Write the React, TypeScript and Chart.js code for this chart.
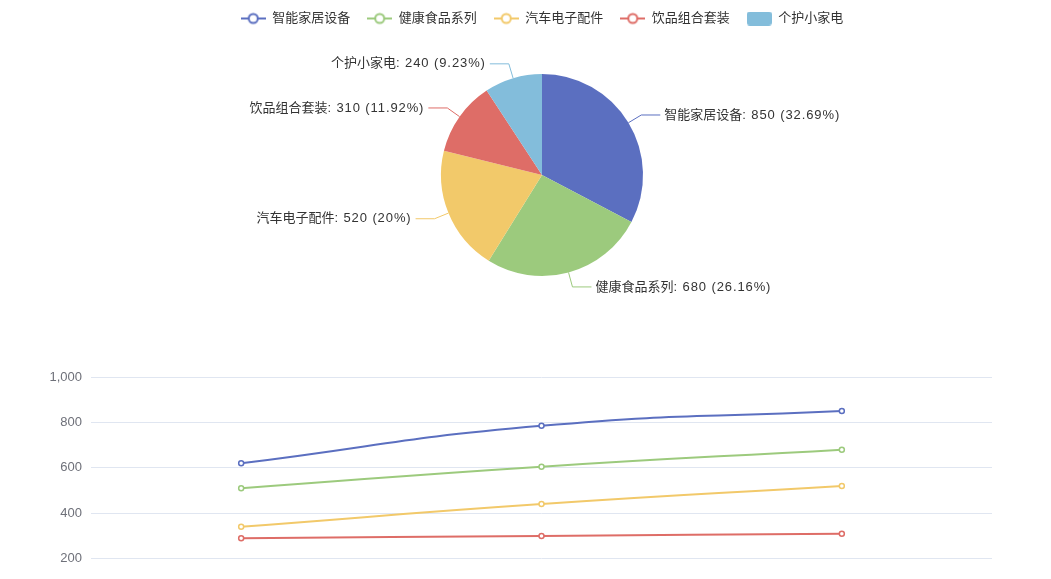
import React, { useEffect, useRef } from "react";
import { Chart, registerables } from "chart.js";

Chart.register(...registerables);

// ---- data ----
const categories = ["1月", "2月", "3月"];
const seriesNames = ["智能家居设备", "健康食品系列", "汽车电子配件", "饮品组合套装"];
const smartHome = [620, 785, 850];
const healthFood = [510, 605, 680];
const autoParts = [340, 440, 520];
const drinks = [290, 300, 310];
const pieNames = ["智能家居设备", "健康食品系列", "汽车电子配件", "饮品组合套装", "个护小家电"];
const pieValues = [850, 680, 520, 310, 240];
const palette = ["#5b6fc0", "#9cca7d", "#f2c96a", "#de6d67", "#83bddb"];

const FONT = "'Liberation Sans', 'Noto Sans CJK SC', sans-serif";

function percents(values: number[], digits: number): number[] {
  const sum = values.reduce((a, b) => a + b, 0);
  const digitsPow = Math.pow(10, digits);
  const votes = values.map((v) => (v / sum) * 100 * digitsPow);
  const target = 100 * digitsPow;
  const seats = votes.map((v) => Math.floor(v));
  const rem = votes.map((v, i) => v - seats[i]);
  let cur = seats.reduce((a, b) => a + b, 0);
  while (cur < target) {
    let max = -1;
    let idx = -1;
    rem.forEach((r, i) => {
      if (r > max) {
        max = r;
        idx = i;
      }
    });
    seats[idx]++;
    rem[idx] = 0;
    cur++;
  }
  return seats.map((s) => s / digitsPow);
}

function makeLineIcon(color: string): HTMLCanvasElement {
  const c = document.createElement("canvas");
  c.width = 25;
  c.height = 14;
  const ctx = c.getContext("2d")!;
  ctx.strokeStyle = color;
  ctx.lineWidth = 2;
  ctx.beginPath();
  ctx.moveTo(0, 7);
  ctx.lineTo(25, 7);
  ctx.stroke();
  ctx.beginPath();
  ctx.arc(12.5, 7, 4.5, 0, Math.PI * 2);
  ctx.fillStyle = "#fff";
  ctx.fill();
  ctx.stroke();
  return c;
}

function makeRectIcon(color: string): HTMLCanvasElement {
  const c = document.createElement("canvas");
  c.width = 25;
  c.height = 14;
  const ctx = c.getContext("2d")!;
  ctx.fillStyle = color;
  ctx.beginPath();
  (ctx as any).roundRect(0, 0, 25, 14, 3);
  ctx.fill();
  return c;
}

const pieLabelPlugin = {
  id: "pieLabelPlugin",
  afterDatasetsDraw(chart: any) {
    const meta = chart.getDatasetMeta(0);
    const pct = percents(pieValues, 2);
    const ctx = chart.ctx;
    ctx.save();
    meta.data.forEach((arc: any, i: number) => {
      const { x, y, startAngle, endAngle, outerRadius } = arc.getProps(
        ["x", "y", "startAngle", "endAngle", "outerRadius"],
        true
      );
      const mid = (startAngle + endAngle) / 2;
      const cos = Math.cos(mid);
      const sin = Math.sin(mid);
      const p1x = x + outerRadius * cos;
      const p1y = y + outerRadius * sin;
      const p2x = x + (outerRadius + 15) * cos;
      const p2y = y + (outerRadius + 15) * sin;
      const dir = cos >= 0 ? 1 : -1;
      const p3x = p2x + dir * 19;
      ctx.strokeStyle = palette[i];
      ctx.lineWidth = 1;
      ctx.beginPath();
      ctx.moveTo(p1x, p1y);
      ctx.lineTo(p2x, p2y);
      ctx.lineTo(p3x, p2y);
      ctx.stroke();

      ctx.fillStyle = "#333";
      ctx.font = `13px ${FONT}`;
      ctx.textBaseline = "middle";
      ctx.textAlign = "left";
      const namePart = pieNames[i];
      const numPart = `: ${pieValues[i]} (${pct[i]}%)`;
      (ctx as any).letterSpacing = "0px";
      const w1 = ctx.measureText(namePart).width;
      (ctx as any).letterSpacing = "0.9px";
      const w2 = ctx.measureText(numPart).width;
      const total = w1 + w2;
      const sx = dir > 0 ? p3x + 4 : p3x - 4 - total;
      (ctx as any).letterSpacing = "0px";
      ctx.fillText(namePart, sx, p2y);
      (ctx as any).letterSpacing = "0.9px";
      ctx.fillText(numPart, sx + w1, p2y);
      (ctx as any).letterSpacing = "0px";
    });
    ctx.restore();
  },
};

export default function App() {
  const pieRef = useRef<HTMLCanvasElement>(null);
  const lineRef = useRef<HTMLCanvasElement>(null);

  useEffect(() => {
    const icons = pieNames.map((_, i) =>
      i < seriesNames.length ? makeLineIcon(palette[i]) : makeRectIcon(palette[i])
    );

    const pie = new Chart(pieRef.current!, {
      type: "pie",
      data: {
        labels: pieNames,
        datasets: [
          {
            data: pieValues,
            backgroundColor: palette,
            borderWidth: 0,
            radius: 101,
          } as any,
        ],
      },
      options: {
        animation: false,
        responsive: true,
        maintainAspectRatio: false,
        layout: { padding: 0 },
        plugins: {
          tooltip: { enabled: false },
          legend: {
            display: true,
            position: "top",
            labels: {
              usePointStyle: true,
              pointStyleWidth: 25,
              padding: 17,
              color: "#333",
              font: { size: 13, family: FONT },
              generateLabels: () =>
                pieNames.map((name, i) => ({
                  text: name,
                  fillStyle: palette[i],
                  strokeStyle: palette[i],
                  lineWidth: 0,
                  pointStyle: icons[i],
                  hidden: false,
                  index: i,
                  fontColor: "#333",
                })),
            },
          },
        },
      } as any,
      plugins: [pieLabelPlugin],
    });

    const mkDs = (label: string, data: number[], color: string) => ({
      label,
      data,
      borderColor: color,
      backgroundColor: "#fff",
      pointBackgroundColor: "#fff",
      pointBorderColor: color,
      pointRadius: 2.5,
      pointBorderWidth: 1.5,
      borderWidth: 2,
      tension: 0.5,
      fill: false,
    });

    const line = new Chart(lineRef.current!, {
      type: "line",
      data: {
        labels: categories,
        datasets: [
          mkDs(seriesNames[0], smartHome, palette[0]),
          mkDs(seriesNames[1], healthFood, palette[1]),
          mkDs(seriesNames[2], autoParts, palette[2]),
          mkDs(seriesNames[3], drinks, palette[3]),
        ],
      },
      options: {
        animation: false,
        responsive: true,
        maintainAspectRatio: false,
        layout: { padding: { top: 40, right: 59, left: 0, bottom: 0 } },
        plugins: {
          legend: { display: false },
          tooltip: { enabled: false },
        },
        scales: {
          x: {
            offset: true,
            grid: { display: false },
            border: { display: true, color: "#6e7079" },
            ticks: { color: "#6e7079", font: { size: 13, family: FONT } },
            afterFit: (s: any) => {
              s.height = 30;
            },
          },
          y: {
            min: 0,
            max: 1000,
            ticks: {
              stepSize: 200,
              color: "#6e7079",
              padding: 9,
              font: { size: 13, family: FONT },
            },
            grid: { color: "#e0e6f1", lineWidth: 1, drawTicks: false },
            border: { display: false },
            afterFit: (s: any) => {
              s.width = 91;
            },
          },
        },
      } as any,
    });

    return () => {
      pie.destroy();
      line.destroy();
    };
  }, []);

  return (
    <div
      style={{
        position: "fixed",
        left: 0,
        top: 0,
        width: 1051,
        height: 579,
        overflow: "hidden",
        background: "#fff",
      }}
    >
      <div style={{ position: "absolute", left: 0, top: -5, width: 1084, height: 320 }}>
        <canvas ref={pieRef} />
      </div>
      <div style={{ position: "absolute", left: 0, top: 337, width: 1051, height: 297 }}>
        <canvas ref={lineRef} />
      </div>
    </div>
  );
}
